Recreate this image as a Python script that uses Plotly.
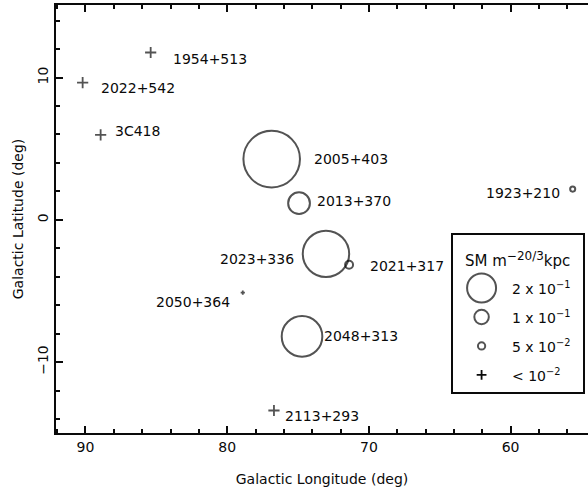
import plotly.graph_objects as go

# ---------------- data ----------------
circ_names = ["2005+403", "2013+370", "2023+336", "2021+317", "2048+313", "1923+210"]
circ_lon = [76.86, 74.93, 73.03, 71.40, 74.72, 55.62]
circ_lat = [4.27, 1.17, -2.39, -3.16, -8.19, 2.16]
circ_sm = [0.39, 0.15, 0.32, 0.055, 0.28, 0.035]

plus_names = ["1954+513", "2022+542", "3C418", "2050+364", "2113+293"]
plus_lon = [85.4, 90.2, 88.93, 78.9, 76.7]
plus_lat = [11.76, 9.65, 5.97, -5.11, -13.4]

legend_sm = [0.2, 0.1, 0.05]
legend_labels = ["2 x 10<sup>−1</sup>", "1 x 10<sup>−1</sup>", "5 x 10<sup>−2</sup>", "< 10<sup>−2</sup>"]
legend_title = "SM m<sup><span style='font-size:12px'>−20/3</span></sup>kpc"

x_ticks = [90, 80, 70, 60]
y_ticks = [-10, 0, 10]

# ---------------- styles ----------------
FONT = "DejaVu Sans"
FS = 14
INK = "#0a0a0a"
LW = 2.0
SIZE_SCALE = 145  # px diameter per unit SM

# label placement: (xanchor, xshift, yshift) in px
label_style = {
    "2005+403": ("left", 40, 0),
    "2013+370": ("left", 16, 2),
    "2023+336": ("right", -30, -5),
    "2021+317": ("left", 19, -1),
    "2048+313": ("left", 20, 0),
    "1923+210": ("right", -11, -4),
    "1954+513": ("left", 20, -6),
    "2022+542": ("left", 16, -5),
    "3C418": ("left", 12, 4),
    "2050+364": ("right", -11, -9),
    "2113+293": ("left", 9, -5),
}
plus_sizes = {"2050+364": 3}

fig = go.Figure()

fig.add_trace(go.Scatter(
    x=circ_lon, y=circ_lat, mode="markers",
    marker=dict(symbol="circle-open", size=[s * SIZE_SCALE for s in circ_sm],
                color=INK, line=dict(width=LW, color=INK)),
    hoverinfo="skip", showlegend=False, cliponaxis=False))

fig.add_trace(go.Scatter(
    x=plus_lon, y=plus_lat, mode="markers",
    marker=dict(symbol="cross-thin-open", size=[plus_sizes.get(n, 8) for n in plus_names],
                color=INK, line=dict(width=1.8, color=INK)),
    hoverinfo="skip", showlegend=False))

annotations = []
for names, lons, lats in [(circ_names, circ_lon, circ_lat), (plus_names, plus_lon, plus_lat)]:
    for n, lo, la in zip(names, lons, lats):
        xa, xs, ys = label_style[n]
        annotations.append(dict(x=lo, y=la, xref="x", yref="y", text=n, showarrow=False,
                                xanchor=xa, yanchor="middle", xshift=xs, yshift=ys,
                                font=dict(family=FONT, size=FS, color=INK)))

# ---------------- custom legend (second axes) ----------------
n_rows = len(legend_labels)
leg_glyph_x = 0.22
leg_text_x = 0.44
fig.add_trace(go.Scatter(
    x=[leg_glyph_x] * len(legend_sm), y=list(range(len(legend_sm))), mode="markers",
    xaxis="x2", yaxis="y2",
    marker=dict(symbol="circle-open", size=[s * SIZE_SCALE for s in legend_sm],
                color=INK, line=dict(width=LW, color=INK)),
    hoverinfo="skip", showlegend=False))
fig.add_trace(go.Scatter(
    x=[leg_glyph_x], y=[n_rows - 1], mode="markers", xaxis="x2", yaxis="y2",
    marker=dict(symbol="cross-thin-open", size=7, color=INK, line=dict(width=1.8, color=INK)),
    hoverinfo="skip", showlegend=False))
for i, t in enumerate(legend_labels):
    annotations.append(dict(x=leg_text_x, y=i, xref="x2", yref="y2", text=t, showarrow=False,
                            xanchor="left", yanchor="middle",
                            font=dict(family=FONT, size=FS, color=INK)))
annotations.append(dict(x=0.5, y=-1, xref="x2", yref="y2", text=legend_title, showarrow=False,
                        xanchor="center", yanchor="middle",
                        font=dict(family=FONT, size=15, color=INK)))

axis_common = dict(showgrid=False, zeroline=False, color=INK, automargin=False)

fig.update_layout(
    template="none",
    width=588, height=493,
    margin=dict(l=56, r=0, t=5, b=60),
    paper_bgcolor="white", plot_bgcolor="white",
    font=dict(family=FONT, size=FS, color=INK),
    annotations=annotations,
    xaxis=dict(**axis_common, range=[92.08, 54.54], tickvals=x_ticks,
               ticks="inside", ticklen=7, tickwidth=1.7, tickcolor=INK,
               minor=dict(dtick=2, ticks="inside", ticklen=4, tickwidth=1.5, tickcolor=INK),
               showline=True, linewidth=2.2, linecolor=INK, mirror="ticks",
               tickfont=dict(family=FONT, size=FS, color=INK),
               title=dict(text="Galactic Longitude (deg)", standoff=20,
                          font=dict(family=FONT, size=FS, color=INK))),
    yaxis=dict(**axis_common, range=[-14.98, 15.1], tickvals=y_ticks, tickangle=-90,
               ticks="inside", ticklen=7, tickwidth=1.7, tickcolor=INK,
               minor=dict(dtick=2, ticks="inside", ticklen=4, tickwidth=1.5, tickcolor=INK),
               showline=True, linewidth=2.2, linecolor=INK, mirror=False,
               tickfont=dict(family=FONT, size=FS, color=INK),
               title=dict(text="Galactic Latitude (deg)", standoff=8,
                          font=dict(family=FONT, size=FS, color=INK))),
    xaxis2=dict(domain=[0.7462, 0.9906], range=[0, 1], anchor="y2", showgrid=False,
                zeroline=False, showticklabels=False, ticks="", showline=True,
                linewidth=2, linecolor=INK, mirror=True, fixedrange=True, automargin=False),
    yaxis2=dict(domain=[0.0958, 0.4626], range=[3.59, -1.83], anchor="x2", showgrid=False,
                zeroline=False, showticklabels=False, ticks="", showline=True,
                linewidth=2, linecolor=INK, mirror=True, fixedrange=True, automargin=False),
)

fig.write_html(
    "out.html",
    config={"displayModeBar": False},
    post_script="document.body.style.margin='0';document.body.style.overflow='hidden';",
)
